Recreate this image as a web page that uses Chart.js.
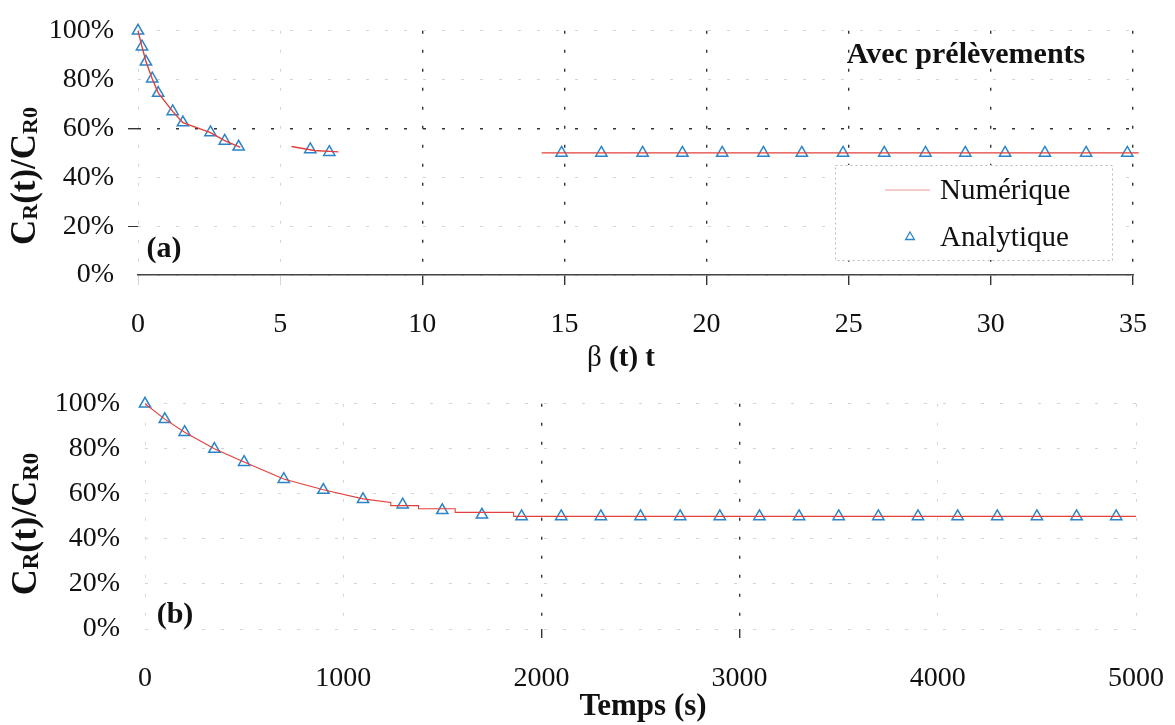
<!DOCTYPE html>
<html lang="fr">
<head>
<meta charset="UTF-8" />
<title>Avec prélèvements</title>
<script src="https://cdn.jsdelivr.net/npm/chart.js@4"></script>
<style>
  body { margin: 0; background: #fff; }
  canvas { position: absolute; left: 0; }
</style>
</head>
<body>
  <canvas id="graphA" width="1175" height="380" style="top:0"></canvas>
  <canvas id="graphB" width="1175" height="363" style="top:362px"></canvas>

<script>
// ---- (a) en fonction de beta(t) t ----
const numA_x = [0, 0.14, 0.28, 0.5, 0.71, 1.22, 1.58, 2.55, 3.05, 3.6, 4.5, 5.4, 6.2, 7.05, 10, 14.2, 35.2];
const numA_y = [100, 93.5, 87.4, 80.4, 74.6, 67.0, 62.4, 58.3, 55.0, 52.3, null, 52.6, 51.0, 50.4, null, 50.0, 50.0];
const anaA_x = [0, 0.14, 0.28, 0.5, 0.71, 1.22, 1.58, 2.55, 3.05, 3.54, 6.06, 6.73,
                14.9, 16.3, 17.75, 19.15, 20.55, 22.0, 23.35, 24.8, 26.25, 27.7, 29.1, 30.5, 31.9, 33.35, 34.8];
const anaA_y = [100, 93.5, 87.3, 80.4, 74.5, 67.0, 62.4, 58.4, 54.9, 52.5, 51.4, 50.3,
                50, 50, 50, 50, 50, 50, 50, 50, 50, 50, 50, 50, 50, 50, 50];

// ---- (b) en fonction du temps ----
const numB_t = [0, 100, 200, 350, 500, 700, 900, 1100, 1240, 1240, 1380, 1380, 1565, 1565, 1860, 1860, 5000];
const numB_y = [100, 93.2, 87.4, 80.0, 74.2, 66.6, 61.8, 57.8, 56.2, 54.8, 54.8, 53.4, 53.4, 51.8, 51.8, 50.0, 50.0];
const anaB_t = [0, 100, 200, 350, 500, 700, 900, 1100, 1300, 1500, 1700, 1900,
                2100, 2300, 2500, 2700, 2900, 3100, 3300, 3500, 3700, 3900, 4100, 4300, 4500, 4700, 4900];
const anaB_y = [100, 93.1, 87.4, 79.9, 74.1, 66.5, 61.7, 57.6, 55.2, 52.7, 50.7, 50.0,
                50, 50, 50, 50, 50, 50, 50, 50, 50, 50, 50, 50, 50, 50, 50];

// graduations
const ticksA = [0, 5, 10, 15, 20, 25, 30, 35];
const ticksB = [0, 1000, 2000, 3000, 4000, 5000];
const ticksPct = [0, 20, 40, 60, 80, 100];

const SERIF = '"Liberation Serif", "Times New Roman", serif';
const ROUGE = '#e2403c';
const BLEU = '#2b84c8';
const FONCE = '#333333';
const PALE = '#d4d4d4';
const RIEN = 'rgba(0,0,0,0)';

const paires = (xs, ys) => xs.map((x, i) => ({ x: x, y: ys[i] }));

// texte composé (gras / indices), centré sur (x, y) ligne de base
function ecrire(ctx, morceaux, x, y, angle) {
  const police = m => (m.bold ? 'bold ' : '') + m.size + 'px ' + SERIF;
  ctx.save();
  ctx.translate(x, y);
  ctx.rotate(angle || 0);
  ctx.fillStyle = '#111';
  ctx.textBaseline = 'alphabetic';
  let w = 0;
  morceaux.forEach(m => { ctx.font = police(m); w += ctx.measureText(m.t).width; });
  let cx = -w / 2;
  morceaux.forEach(m => {
    ctx.font = police(m);
    ctx.fillText(m.t, cx, m.dy || 0);
    cx += ctx.measureText(m.t).width;
  });
  ctx.restore();
}

function titreY(taille, sous) {
  return [
    { t: 'C', size: taille, bold: true },
    { t: 'R', size: sous, bold: true, dy: 2 },
    { t: '(t)/C', size: taille, bold: true },
    { t: 'R0', size: sous, bold: true, dy: 2 }
  ];
}

const textes = {
  id: 'textes',
  afterDraw(chart, args, opts) {
    opts.items.forEach(it => ecrire(chart.ctx, it.morceaux, it.x, it.y, it.angle));
  }
};

const legende = {
  id: 'legende',
  afterDraw(chart, args, opts) {
    if (!opts.display) return;
    const ctx = chart.ctx;
    const b = opts.box;
    ctx.save();
    ctx.fillStyle = '#fff';
    ctx.fillRect(b.x, b.y, b.w, b.h);
    ctx.setLineDash([2, 3]);
    ctx.strokeStyle = '#bbb';
    ctx.lineWidth = 1;
    ctx.strokeRect(b.x + 0.5, b.y + 0.5, b.w, b.h);
    ctx.setLineDash([]);
    const ds = chart.data.datasets;
    // ligne rouge
    let y = b.y + 25;
    ctx.strokeStyle = '#eb9a98';
    ctx.beginPath();
    ctx.moveTo(b.x + 50, y);
    ctx.lineTo(b.x + 95, y);
    ctx.stroke();
    // triangle bleu
    const ty = b.y + 72, tx = b.x + 75, r = 5;
    ctx.strokeStyle = BLEU;
    ctx.lineWidth = 1.3;
    ctx.beginPath();
    ctx.moveTo(tx, ty - r);
    ctx.lineTo(tx + r * 0.87, ty + r * 0.5);
    ctx.lineTo(tx - r * 0.87, ty + r * 0.5);
    ctx.closePath();
    ctx.stroke();
    ctx.fillStyle = '#111';
    ctx.font = '29px ' + SERIF;
    ctx.textBaseline = 'alphabetic';
    ctx.fillText(ds[0].label, b.x + 105, b.y + 34);
    ctx.fillText(ds[1].label, b.x + 105, b.y + 81);
    ctx.restore();
  }
};

function jeux(num, ana, largeur) {
  return [
    {
      label: 'Numérique',
      type: 'line',
      data: num,
      borderColor: ROUGE,
      borderWidth: largeur,
      pointRadius: 0,
      spanGaps: false,
      tension: 0,
      clip: 8
    },
    {
      label: 'Analytique',
      type: 'scatter',
      data: ana,
      showLine: false,
      pointStyle: 'triangle',
      pointRadius: 6.5,
      pointBorderWidth: 1.5,
      borderColor: BLEU,
      backgroundColor: RIEN,
      clip: false
    }
  ];
}

function axeY(largeur, traits, fonce) {
  return {
    type: 'linear', min: 0, max: 100,
    afterBuildTicks: s => { s.ticks = ticksPct.map(v => ({ value: v })); },
    afterFit: s => { s.width = largeur; },
    border: { display: false, dash: [3, 16] },
    grid: {
      color: c => (c.tick && fonce.includes(c.tick.value)) ? FONCE : PALE,
      lineWidth: c => (c.tick && fonce.includes(c.tick.value)) ? 1.4 : 1,
      drawTicks: traits.length > 0,
      tickLength: 10,
      tickBorderDash: [],
      tickColor: c => (c.tick && traits.includes(c.tick.value)) ? FONCE : RIEN
    },
    ticks: {
      padding: traits.length > 0 ? 14 : 25,
      color: '#111',
      font: { family: SERIF, size: 28 },
      callback: v => v + '%'
    }
  };
}

function axeX(min, max, graduations, hauteur, fonce, pale, bordure, lg) {
  return {
    type: 'linear', min: min, max: max,
    afterBuildTicks: s => { s.ticks = graduations.map(v => ({ value: v })); },
    afterFit: s => { s.height = hauteur; s.paddingLeft = 0; s.paddingRight = 0; },
    border: { display: bordure, color: '#444', width: 1.5, dash: [3, 16] },
    grid: {
      color: c => (c.tick && fonce.includes(c.tick.value)) ? FONCE : PALE,
      lineWidth: c => (c.tick && fonce.includes(c.tick.value)) ? 1.4 : 1,
      tickLength: lg,
      tickBorderDash: [],
      tickColor: c => (c.tick && fonce.includes(c.tick.value)) ? FONCE : (pale ? PALE : RIEN)
    },
    ticks: {
      padding: 33 - lg,
      maxRotation: 0,
      autoSkip: false,
      color: '#111',
      font: { family: SERIF, size: 28 },
      callback: v => String(v)
    }
  };
}

// ---------- graphique (a) ----------
new Chart(document.getElementById('graphA'), {
  type: 'scatter',
  data: { datasets: jeux(paires(numA_x, numA_y), paires(anaA_x, anaA_y), 1.4) },
  options: {
    responsive: false,
    animation: false,
    layout: { padding: { top: 20, right: 42, left: 0, bottom: 0 } },
    scales: {
      x: axeX(0, 35, ticksA, 105, [10, 15, 20, 25, 30, 35], true, true, 10),
      y: axeY(138, [20, 60], [60])
    },
    plugins: {
      legend: { display: false },
      tooltip: { enabled: false },
      legende: { display: true, box: { x: 835, y: 165, w: 277, h: 95 } },
      textes: {
        items: [
          { morceaux: titreY(35, 22), x: 35, y: 176, angle: -Math.PI / 2 },
          { morceaux: [{ t: 'β ', size: 29 }, { t: '(t) t', size: 29, bold: true }], x: 621, y: 366 },
          { morceaux: [{ t: 'Avec prélèvements', size: 30, bold: true }], x: 966, y: 63 },
          { morceaux: [{ t: '(a)', size: 30, bold: true }], x: 164, y: 257 }
        ]
      }
    }
  },
  plugins: [textes, legende]
});

// ---------- graphique (b) ----------
new Chart(document.getElementById('graphB'), {
  type: 'scatter',
  data: { datasets: jeux(paires(numB_t, numB_y), paires(anaB_t, anaB_y), 1.1) },
  options: {
    responsive: false,
    animation: false,
    layout: { padding: { top: 25, right: 39, left: 0, bottom: 0 } },
    scales: {
      x: axeX(0, 5000, ticksB, 96, [2000, 3000], false, false, 9),
      y: axeY(145, [], [])
    },
    plugins: {
      legend: { display: false },
      tooltip: { enabled: false },
      legende: { display: false },
      textes: {
        items: [
          { morceaux: titreY(36, 23), x: 36, y: 162, angle: -Math.PI / 2 },
          { morceaux: [{ t: 'Temps (s)', size: 31, bold: true }], x: 643, y: 353 },
          { morceaux: [{ t: '(b)', size: 30, bold: true }], x: 175, y: 261 }
        ]
      }
    }
  },
  plugins: [textes, legende]
});
</script>
</body>
</html>
